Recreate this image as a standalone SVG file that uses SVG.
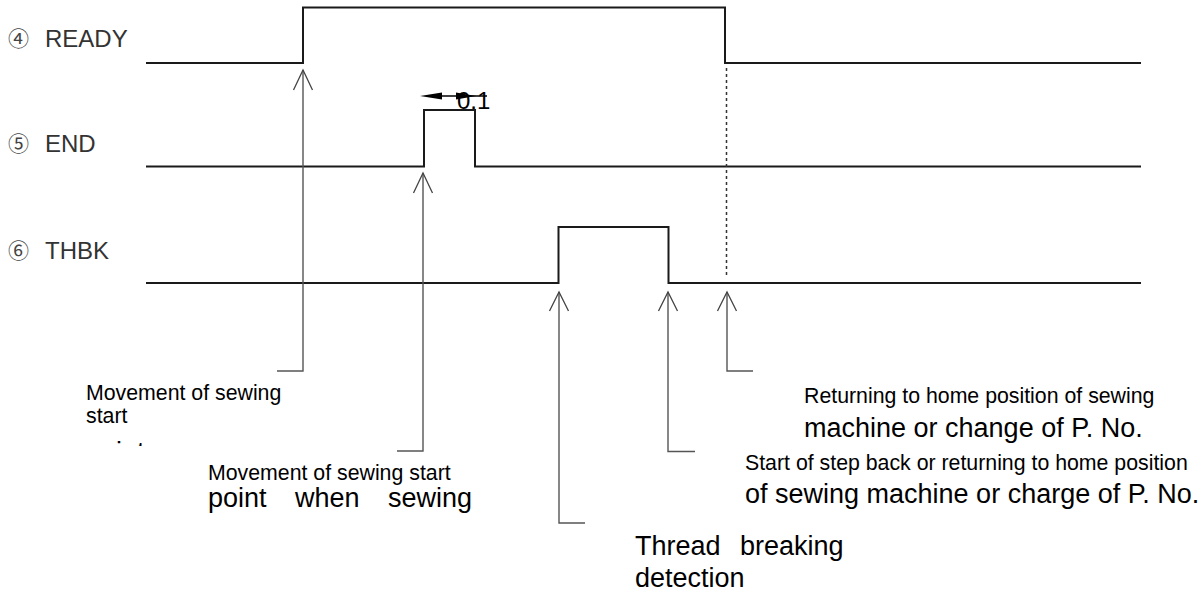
<svg xmlns="http://www.w3.org/2000/svg" width="1204" height="594" viewBox="0 0 1204 594">
<style>
.sig{fill:none;stroke:#1a1a1a;stroke-width:2;stroke-linejoin:miter}
.arr{fill:none;stroke:#555;stroke-width:1.4}
.head{fill:none;stroke:#444;stroke-width:1.3}
.dash{fill:none;stroke:#333;stroke-width:1.5;stroke-dasharray:3,3}
.lbl{font-family:"Liberation Sans","Noto Sans CJK JP",Arial,sans-serif;font-size:24px;fill:#333}
.cd{font-family:"Noto Sans CJK JP","DejaVu Sans",sans-serif;font-size:21px;fill:#444}
.s{font-family:"Liberation Sans",Arial,sans-serif;font-size:21.3px;fill:#000}
.b{font-family:"Liberation Sans",Arial,sans-serif;font-size:27px;fill:#000}
</style>
<defs>
<clipPath id="clip1"><rect x="80" y="375" width="250" height="71"/></clipPath>
</defs>
<rect width="1204" height="594" fill="#fff"/>

<g id="label-ready"><text class="cd" x="8" y="46">④</text><text class="lbl" x="45" y="47">READY</text></g>
<g id="label-end"><text class="cd" x="8" y="151">⑤</text><text class="lbl" x="45" y="152">END</text></g>
<g id="label-thbk"><text class="cd" x="8" y="258">⑥</text><text class="lbl" x="45" y="259">THBK</text></g>

<g id="signal-ready"><polyline class="sig" points="146,63 303,63 303,7.5 725,7.5 725,63 1141,63"/></g>
<g id="signal-end"><polyline class="sig" points="146,166.5 424,166.5 424,110 475,110 475,166.5 1141,166.5"/></g>
<g id="signal-thbk"><polyline class="sig" points="146,283 558.5,283 558.5,227 668.5,227 668.5,283 1141,283"/></g>

<g id="dim-01">
<line x1="436" y1="96" x2="487" y2="96" stroke="#000" stroke-width="1.5"/>
<polygon points="420,96 442,92.5 442,99.5" fill="#000"/>
<polygon points="476,96 456,92.5 456,99.5" fill="#000"/>
<text class="b" x="457" y="109" style="font-size:24px">0.1</text>
</g>

<g id="connectors">
<line class="dash" x1="726.5" y1="68" x2="726.5" y2="278"/>
<polyline class="arr" points="303,70 303,371 277,371"/>
<polyline class="head" points="293.5,90 303,70 312.5,90"/>
<polyline class="arr" points="423,173 423,451 397,451"/>
<polyline class="head" points="413.5,193 423,173 432.5,193"/>
<polyline class="arr" points="559,292 559,523 585,523"/>
<polyline class="head" points="549.5,311 559,292 568.5,311"/>
<polyline class="arr" points="668,292 668,451.5 695,451.5"/>
<polyline class="head" points="658.5,311 668,292 677.5,311"/>
<polyline class="arr" points="727,292 727,371 753,371"/>
<polyline class="head" points="717.5,311 727,292 736.5,311"/>
</g>

<g id="note-ready">
<text class="s" x="86" y="400">Movement of sewing</text>
<text class="s" x="86" y="423">start</text>
<text class="b" x="86" y="461" clip-path="url(#clip1)">point</text>
</g>
<g id="note-end">
<text class="s" x="208" y="480">Movement of sewing start</text>
<text class="b" y="507"><tspan x="208">point</tspan><tspan x="295">when</tspan><tspan x="388">sewing</tspan></text>
</g>
<g id="note-thbk-rise">
<text class="b" y="555"><tspan x="635">Thread</tspan><tspan x="740">breaking</tspan></text>
<text class="b" x="635" y="587">detection</text>
</g>
<g id="note-thbk-fall">
<text class="s" x="745" y="470">Start of step back or returning to home position</text>
<text class="b" x="745" y="503">of sewing machine or charge of P. No.</text>
</g>
<g id="note-ready-fall">
<text class="s" x="804" y="403">Returning to home position of sewing</text>
<text class="b" x="804" y="437">machine or change of P. No.</text>
</g>
</svg>
